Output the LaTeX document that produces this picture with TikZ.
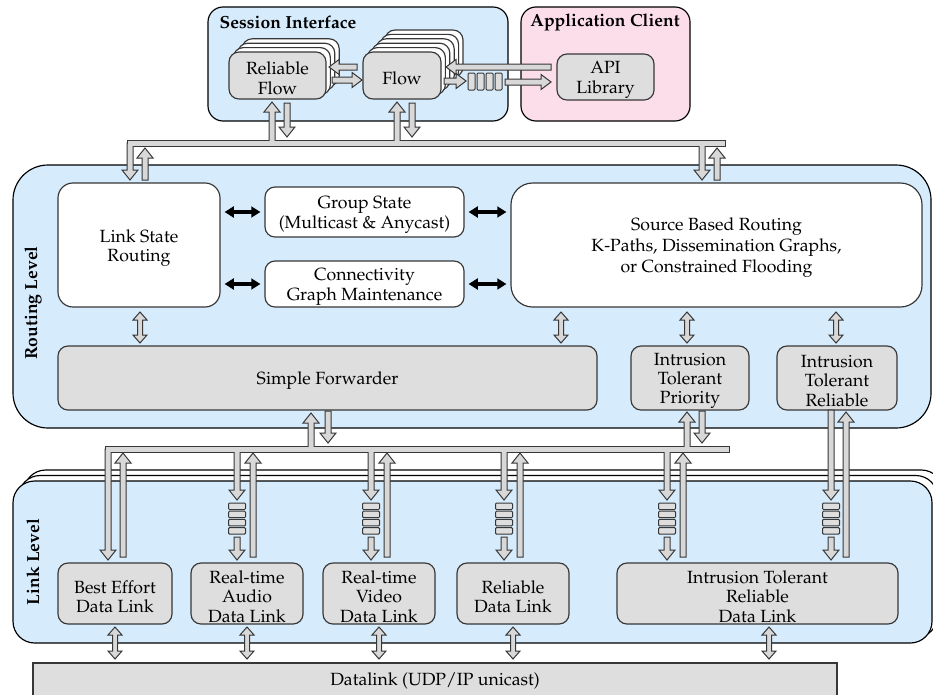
\documentclass[tikz,border=0pt]{standalone}
\usepackage[T1]{fontenc}
\usepackage{mathpazo}
\usetikzlibrary{fit,arrows.meta}
\definecolor{lvlblue}{RGB}{214,235,252}
\definecolor{apppink}{RGB}{252,222,234}
\definecolor{boxgray}{RGB}{222,222,222}
\definecolor{arrgray}{RGB}{216,216,216}
\definecolor{edgec}{RGB}{55,55,55}
% fat vertical arrow: x, tail y, tip y
\newcommand\fatv[3]{\pgfmathsetmacro\fd{ifthenelse(#3>#2,1,-1)}%
\filldraw[fat] ({#1-3},{#2}) -- ({#1-3},{#3-(\fd)*10}) -- ({#1-8},{#3-(\fd)*10}) -- ({#1},{#3}) -- ({#1+8},{#3-(\fd)*10}) -- ({#1+3},{#3-(\fd)*10}) -- ({#1+3},{#2}) -- cycle;}
% fat horizontal arrow: y, tail x, tip x
\newcommand\fath[3]{\pgfmathsetmacro\fd{ifthenelse(#3>#2,1,-1)}%
\filldraw[fat] ({#2},{#1-3}) -- ({#3-(\fd)*10},{#1-3}) -- ({#3-(\fd)*10},{#1-7.5}) -- ({#3},{#1}) -- ({#3-(\fd)*10},{#1+7.5}) -- ({#3-(\fd)*10},{#1+3}) -- ({#2},{#1+3}) -- cycle;}
% small double vertical arrow: x, top y, bottom y
\newcommand\dblv[3]{%
\filldraw[fat] (#1,#2) -- ({#1+7},{#2+8}) -- ({#1+2.5},{#2+8}) -- ({#1+2.5},{#3-8}) -- ({#1+7},{#3-8}) -- (#1,#3) -- ({#1-7},{#3-8}) -- ({#1-2.5},{#3-8}) -- ({#1-2.5},{#2+8}) -- ({#1-7},{#2+8}) -- cycle;}
% vertical queue at x
\newcommand\vq[1]{\foreach \qi in {0,...,3}{\draw[qcell] ({#1-8.5},{503+8.2*\qi}) rectangle ({#1+8.5},{509.5+8.2*\qi});}}
% text placed at the centre of a named box
\newcommand\bxtext[3][]{\node[lbl,yshift=-1.7pt,#1] (#2-t) at (#2.center) {#3};}
\begin{document}
\begin{tikzpicture}[x=0.6pt,y=-0.6pt,
  lvl/.style={draw=black, line width=0.7pt, fill=lvlblue, inner sep=0pt},
  whitebox/.style={draw=edgec, fill=white, line width=0.7pt, rounded corners=9pt, inner sep=0pt},
  graybox/.style={draw=edgec, fill=boxgray, line width=0.7pt, rounded corners=6pt, inner sep=0pt},
  stackbox/.style={draw=edgec, fill=white, line width=0.7pt, rounded corners=6pt},
  lbl/.style={align=center, inner sep=0pt, font=\fontsize{10.6}{11.6}\selectfont},
  ttl/.style={font=\bfseries\fontsize{10.5}{12}\selectfont, inner sep=0pt},
  fat/.style={draw=edgec, fill=arrgray, line width=0.6pt, line join=miter},
  qcell/.style={draw=edgec, fill=boxgray, line width=0.6pt, rounded corners=0.6pt},
  blk/.style={draw=black, line width=2pt, {Triangle[length=5.5pt,width=6.5pt]}-{Triangle[length=5.5pt,width=6.5pt]}}]
\useasboundingbox (0,0) rectangle (933,694);

% ---------- Session Interface / Application Client ----------
\node[lvl, rounded corners=9pt, fit={(208,7)(508,121)}] (si) {};
\node[lvl, fill=apppink, rounded corners=9pt, fit={(521,7)(690,121)}] (ac) {};
\node[ttl] (sit) at (288,22) {Session Interface};
\node[ttl] (act) at (605,22) {Application Client};
\node[graybox, fit={(557,54)(654,100)}] (api) {};
\bxtext{api}{API\\Library}

\foreach \k in {3,2,1}{\draw[stackbox] ({229+4.4*\k},{52-4.4*\k}) rectangle ({326+4.4*\k},{99-4.4*\k});}
\node[graybox, fit={(229,52)(326,99)}] (rf) {};
\bxtext{rf}{Reliable\\Flow}
\foreach \k in {5,4,3,2,1}{\draw[stackbox] ({363+4.4*\k},{52-4.4*\k}) rectangle ({441+4.4*\k},{99-4.4*\k});}
\node[graybox, fit={(363,52)(441,99)}] (fl) {};
\bxtext{fl}{Flow}
\foreach \i in {0,...,3}{\draw[qcell] ({468+9*\i},73) rectangle ({475+9*\i},90);}

\fath{67}{357}{329}
\fath{80}{332}{362}
\fath{81}{444}{466}
\fath{82}{505}{551}
\fath{67}{551}{446}

% ---------- Routing Level ----------
\node[lvl, rounded corners=21pt, fit={(13,165)(931,428)}] (rl) {};
\node[rotate=90, ttl] (rlt) at (33,303) {Routing Level};
\node[whitebox, fit={(58,183)(220,307)}] (lsr) {};
\bxtext{lsr}{Link State\\Routing}
\node[whitebox, rounded corners=6pt, fit={(265,187)(464,237)}] (gs) {};
\bxtext{gs}{Group State\\(Multicast \& Anycast)}
\node[whitebox, rounded corners=6pt, fit={(265,261)(464,307)}] (cg) {};
\bxtext{cg}{Connectivity\\Graph Maintenance}
\node[whitebox, rounded corners=13pt, fit={(511,183)(922,307)}] (sbr) {};
\bxtext[font=\fontsize{10.6}{12.6}\selectfont]{sbr}{Source Based Routing\\K-Paths, Dissemination Graphs,\\or Constrained Flooding}
\node[graybox, fit={(58,346)(597,410)}] (sf) {};
\bxtext{sf}{Simple Forwarder}
\node[graybox, fit={(631,346)(749,410)}] (itp) {};
\bxtext{itp}{Intrusion\\Tolerant\\Priority}
\node[graybox, fit={(777,346)(897,410)}] (itr) {};
\bxtext{itr}{Intrusion\\Tolerant\\Reliable}

\draw[blk] ([xshift=2.4pt]lsr.east |- gs.west) -- ([xshift=-2.4pt]gs.west);
\draw[blk] ([xshift=2.4pt]lsr.east |- cg.west) -- ([xshift=-2.4pt]cg.west);
\draw[blk] ([xshift=2.4pt]gs.east) -- ([xshift=-2.4pt]sbr.west |- gs.east);
\draw[blk] ([xshift=2.4pt]cg.east) -- ([xshift=-2.4pt]sbr.west |- cg.east);

\dblv{140}{312}{343}
\dblv{561}{312}{343}
\dblv{687}{312}{343}
\dblv{836}{312}{343}

% ---------- top bus ----------
\draw[edgec, line width=4.2pt, line cap=rect] (130,143) -- (722,143);
\fatv{130}{143}{180}
\fatv{702}{143}{180}
\fatv{272}{143}{102}
\fatv{397}{143}{102}
\draw[arrgray, line width=3pt, line cap=rect] (130,143) -- (722,143);
\fatv{287}{103}{137}
\fatv{412}{103}{137}
\fatv{145}{180}{148}
\fatv{717}{180}{148}

% ---------- Link Level ----------
\foreach \k in {2,1}{\draw[lvl, fill=white, rounded corners=13pt] ({13+5.5*\k},{481-5.5*\k}) rectangle ({932+5.5*\k},{643-5.5*\k});}
\node[lvl, rounded corners=13pt, fit={(13,481)(932,643)}] (ll) {};
\node[rotate=90, ttl] (llt) at (33,562) {Link Level};
\node[graybox, fit={(58,563)(172,624)}] (bed) {};
\bxtext{bed}{Best Effort\\Data Link}
\node[graybox, fit={(191,563)(303,624)}] (aud) {};
\bxtext{aud}{Real-time\\Audio\\Data Link}
\node[graybox, fit={(323,563)(435,624)}] (vid) {};
\bxtext{vid}{Real-time\\Video\\Data Link}
\node[graybox, fit={(457,563)(569,624)}] (rel) {};
\bxtext{rel}{Reliable\\Data Link}
\node[graybox, fit={(617,563)(898,624)}] (itdl) {};
\bxtext{itdl}{Intrusion Tolerant\\Reliable\\Data Link}
\node[graybox, rounded corners=0pt, fit={(33,663)(837,700)}] (dl) {};
\node[lbl] (dlt) at (435,681) {Datalink (UDP/IP unicast)};

\dblv{115}{627}{659}
\dblv{247}{627}{659}
\dblv{379}{627}{659}
\dblv{513}{627}{659}
\dblv{769}{627}{659}

% ---------- lower bus ----------
\draw[edgec, line width=4.2pt, line cap=rect] (108,449) -- (726,449);
\fatv{108}{449}{560}
\fatv{237}{449}{500}
\fatv{371}{449}{500}
\fatv{504}{449}{500}
\fatv{667}{449}{500}
\fatv{311}{449}{413}
\fatv{687}{449}{412}
\draw[arrgray, line width=3pt, line cap=rect] (108,449) -- (726,449);
\fatv{328}{411}{443}
\fatv{702}{411}{443}
\fatv{123}{557}{453}
\fatv{253}{557}{453}
\fatv{387}{557}{453}
\fatv{520}{557}{453}
\fatv{683}{557}{453}
\fatv{831}{410}{500}
\fatv{846}{557}{412}
\vq{237}\vq{371}\vq{504}\vq{667}\vq{831}
\fatv{237}{537}{560}
\fatv{371}{537}{560}
\fatv{504}{537}{560}
\fatv{667}{537}{560}
\fatv{831}{537}{560}
\end{tikzpicture}
\end{document}
